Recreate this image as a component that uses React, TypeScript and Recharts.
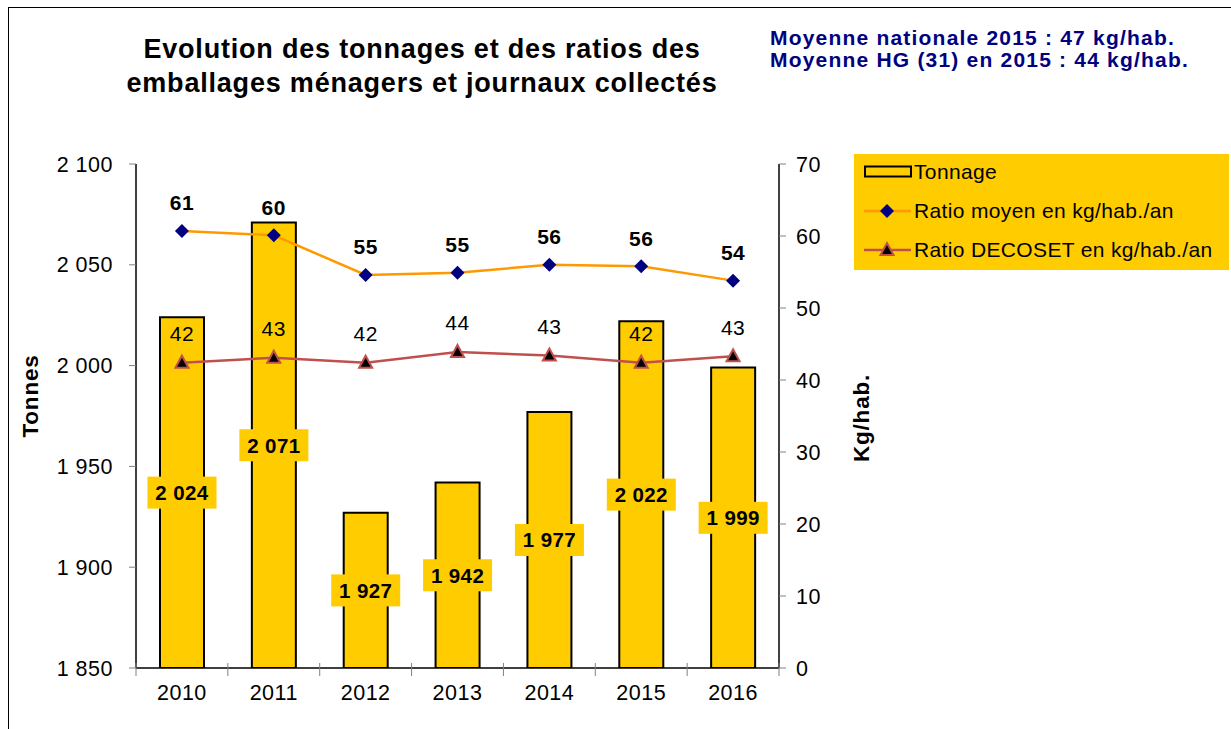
import React from 'react';
import { ComposedChart, Bar, Line, XAxis, YAxis, LabelList, Legend } from 'recharts';

const YEARS = ['2010', '2011', '2012', '2013', '2014', '2015', '2016'];
const TONNAGE = [2024, 2071, 1927, 1942, 1977, 2022, 1999];
const RATIO_MOYEN = [60.7, 60.1, 54.6, 54.9, 56.0, 55.8, 53.8];
const RATIO_DECOSET = [42.4, 43.1, 42.4, 43.9, 43.4, 42.4, 43.3];
const LEFT_TICKS = [1850, 1900, 1950, 2000, 2050, 2100];
const RIGHT_TICKS = [0, 10, 20, 30, 40, 50, 60, 70];

const SERIES_NAMES = ['Tonnage', 'Ratio moyen en kg/hab./an', 'Ratio DECOSET en kg/hab./an'];
const TITLE_LINES = ['Evolution des tonnages et des ratios des', 'emballages ménagers et journaux collectés'];
const NOTE_LINES = ['Moyenne nationale 2015 : 47 kg/hab.', 'Moyenne HG (31) en 2015 : 44 kg/hab.'];

const data = YEARS.map((y, i) => ({
  year: y,
  tonnage: TONNAGE[i],
  moyen: RATIO_MOYEN[i],
  decoset: RATIO_DECOSET[i],
}));

const W = 1231;
const H = 729;
const PLOT_LEFT = 136;
const PLOT_RIGHT = 779;
const PLOT_TOP = 164;
const PLOT_BOTTOM = 668;
const BAND = (PLOT_RIGHT - PLOT_LEFT) / YEARS.length;

const FONT = '"Liberation Sans", Arial, sans-serif';
const YELLOW = '#FFCC00';
const ORANGE = '#FF9900';
const NAVY = '#000080';
const RED = '#C0504D';

const fmt = (v: number) => String(Math.round(v)).replace(/\B(?=(\d{3})+(?!\d))/g, ' ');

const XTick = (props: any) => {
  const { x, y, payload, index } = props;
  const half = BAND / 2;
  const isLast = payload.value === YEARS[YEARS.length - 1] || index === YEARS.length - 1;
  return (
    <g>
      <line x1={x - half} x2={x - half} y1={y - 5} y2={y + 8} stroke="#808080" strokeWidth={1} />
      {isLast && <line x1={x + half} x2={x + half} y1={y - 5} y2={y + 8} stroke="#808080" strokeWidth={1} />}
      <text x={x} y={y + 17} dy="0.71em" textAnchor="middle" fontFamily={FONT} fontSize={21.5} letterSpacing={0.5} fill="#000">
        {payload.value}
      </text>
    </g>
  );
};

const Diamond = (props: any) => {
  const { cx, cy } = props;
  if (cx == null || cy == null) return null;
  const r = 7;
  return <polygon points={`${cx},${cy - r} ${cx + r},${cy} ${cx},${cy + r} ${cx - r},${cy}`} fill={NAVY} />;
};

const Triangle = (props: any) => {
  const { cx, cy } = props;
  if (cx == null || cy == null) return null;
  return <polygon points={`${cx},${cy - 7} ${cx + 6.5},${cy + 5} ${cx - 6.5},${cy + 5}`} fill="#000" stroke={RED} strokeWidth={2} />;
};

const BarValueLabel = (props: any) => {
  const { x, y, width, height, value } = props;
  const cx = x + width / 2;
  const cy = y + height / 2;
  const bw = 69;
  const bh = 32;
  return (
    <g>
      <rect x={cx - bw / 2} y={cy - bh / 2} width={bw} height={bh} fill={YELLOW} />
      <text x={cx} y={cy} dominantBaseline="central" textAnchor="middle" fontFamily={FONT} fontWeight="bold" fontSize={20.5} letterSpacing={0.4} fill="#000">
        {fmt(value)}
      </text>
    </g>
  );
};

const makeLineLabel = (bold: boolean, offset: number) => (props: any) => {
  const { x, y, value } = props;
  return (
    <text x={x} y={y - offset} dominantBaseline="central" textAnchor="middle" fontFamily={FONT} fontWeight={bold ? 'bold' : 'normal'} fontSize={21} letterSpacing={0.5} fill="#000">
      {Math.round(value)}
    </text>
  );
};

const AxisTitle = (props: any) => {
  const { cx, cy, text } = props;
  return (
    <text x={cx} y={cy} transform={`rotate(-90 ${cx} ${cy})`} dominantBaseline="central" textAnchor="middle" fontFamily={FONT} fontWeight="bold" fontSize={22.5} letterSpacing={0.8} fill="#000">
      {text}
    </text>
  );
};

const LegendContent = () => (
  <div style={{ width: 375, height: 116, background: YELLOW, position: 'relative', fontFamily: FONT, fontSize: 21, letterSpacing: 0.35, color: '#000' }}>
    <svg width={375} height={116} style={{ position: 'absolute', left: 0, top: 0 }}>
      <rect x={11} y={12.5} width={46} height={10} fill={YELLOW} stroke="#000" strokeWidth={2} />
      <line x1={10} x2={57} y1={57} y2={57} stroke={ORANGE} strokeWidth={2.5} />
      <Diamond cx={33} cy={57} />
      <line x1={10} x2={57} y1={96} y2={96} stroke={RED} strokeWidth={2.5} />
      <Triangle cx={33} cy={96} />
    </svg>
    {SERIES_NAMES.map((n, i) => (
      <div key={n} style={{ position: 'absolute', left: 60, top: 18 + i * 39 - 12, height: 24, lineHeight: '24px', whiteSpace: 'nowrap' }}>
        {n}
      </div>
    ))}
  </div>
);

export default function App() {
  return (
    <div style={{ position: 'absolute', left: 0, top: 0, width: W, height: H, background: '#fff', overflow: 'hidden' }}>
      <div style={{ position: 'absolute', left: 8, top: 7, width: W, height: H, borderTop: '1px solid #000', borderLeft: '1px solid #000' }} />
      <div style={{ position: 'absolute', left: 0, top: 32, width: 844, textAlign: 'center', fontFamily: FONT, fontWeight: 'bold', fontSize: 27, lineHeight: '34px', letterSpacing: 0.8, color: '#000' }}>
        {TITLE_LINES.map((t) => (
          <div key={t}>{t}</div>
        ))}
      </div>
      <div style={{ position: 'absolute', left: 770, top: 27, fontFamily: FONT, fontWeight: 'bold', fontSize: 21, lineHeight: '22px', letterSpacing: 1.2, color: NAVY, whiteSpace: 'nowrap' }}>
        {NOTE_LINES.map((t) => (
          <div key={t}>{t}</div>
        ))}
      </div>
      <ComposedChart
        width={W}
        height={H}
        data={data}
        margin={{ top: PLOT_TOP, left: 0, right: W - PLOT_RIGHT - 60, bottom: 0 }}
        barCategoryGap={0}
        style={{ position: 'absolute', left: 0, top: 0 }}
      >
        <XAxis
          dataKey="year"
          height={H - PLOT_BOTTOM}
          tickSize={0}
          tickMargin={0}
          tick={<XTick />}
          axisLine={{ stroke: '#000', strokeWidth: 1.5 }}
          tickLine={false}
          interval={0}
        />
        <YAxis
          yAxisId="left"
          domain={[1850, 2100]}
          ticks={LEFT_TICKS}
          width={PLOT_LEFT}
          tickSize={7}
          tickMargin={16}
          tickFormatter={fmt}
          axisLine={{ stroke: '#000', strokeWidth: 1.5 }}
          tickLine={{ stroke: '#808080' }}
          tick={{ fill: '#000', fontFamily: FONT, fontSize: 21.5, letterSpacing: 0.5 }}
          allowDataOverflow
          label={<AxisTitle cx={30} cy={396} text="Tonnes" />}
        />
        <YAxis
          yAxisId="right"
          orientation="right"
          domain={[0, 70]}
          ticks={RIGHT_TICKS}
          width={60}
          tickSize={7}
          tickMargin={10}
          axisLine={{ stroke: '#000', strokeWidth: 1.5 }}
          tickLine={{ stroke: '#808080' }}
          tick={{ fill: '#000', fontFamily: FONT, fontSize: 21.5, letterSpacing: 0.5, textAnchor: 'start' }}
          label={<AxisTitle cx={861} cy={418} text="Kg/hab." />}
        />
        <Legend
          layout="vertical"
          align="center"
          verticalAlign="middle"
          content={<LegendContent />}
          wrapperStyle={{ left: 854, top: 154, width: 375, height: 116 }}
        />
        <Bar
          yAxisId="left"
          dataKey="tonnage"
          name={SERIES_NAMES[0]}
          barSize={44}
          fill={YELLOW}
          stroke="#000"
          strokeWidth={2}
          isAnimationActive={false}
        >
          <LabelList dataKey="tonnage" content={<BarValueLabel />} />
        </Bar>
        <Line
          yAxisId="right"
          dataKey="moyen"
          name={SERIES_NAMES[1]}
          stroke={ORANGE}
          strokeWidth={2.5}
          dot={(p: any) => <Diamond key={`d${p.index}`} cx={p.cx} cy={p.cy} />}
          activeDot={false}
          isAnimationActive={false}
        >
          <LabelList dataKey="moyen" content={makeLineLabel(true, 28)} />
        </Line>
        <Line
          yAxisId="right"
          dataKey="decoset"
          name={SERIES_NAMES[2]}
          stroke={RED}
          strokeWidth={2.5}
          dot={(p: any) => <Triangle key={`t${p.index}`} cx={p.cx} cy={p.cy} />}
          activeDot={false}
          isAnimationActive={false}
        >
          <LabelList dataKey="decoset" content={makeLineLabel(false, 29)} />
        </Line>
      </ComposedChart>
    </div>
  );
}
